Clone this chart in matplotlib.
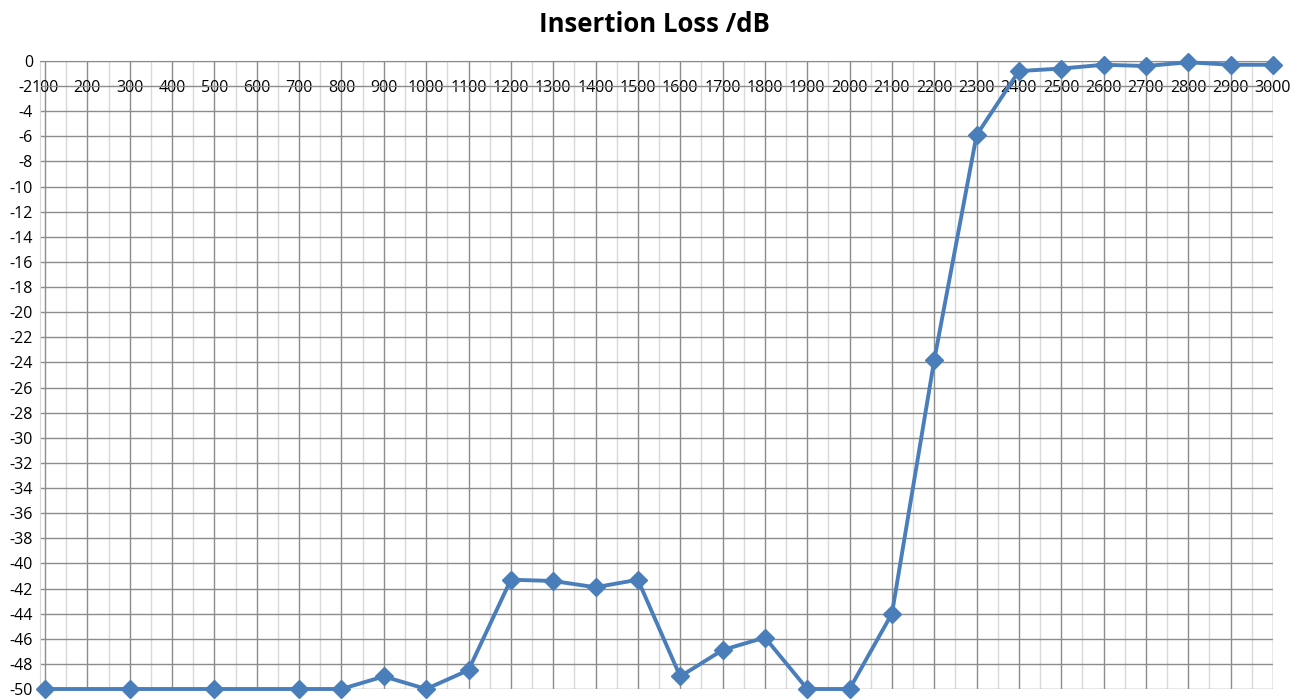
import matplotlib.pyplot as plt
import numpy as np
from matplotlib.ticker import MultipleLocator

plt.rcParams["font.family"] = ["Open Sans", "DejaVu Sans"]

freq = [100, 300, 500, 700, 800, 900, 1000, 1100, 1200, 1300, 1400, 1500,
        1600, 1700, 1800, 1900, 2000, 2100, 2200, 2300, 2400, 2500, 2600,
        2700, 2800, 2900, 3000]
loss = [-50, -50, -50, -50, -50, -49, -50, -48.5, -41.3, -41.4, -41.9, -41.3,
        -49, -46.9, -45.9, -50, -50, -44, -23.8, -5.9, -0.8, -0.6, -0.3,
        -0.4, -0.1, -0.3, -0.3]

x_ticks = np.arange(100, 3001, 100)
y_ticks = np.arange(-50, 1, 2)

fig = plt.figure(figsize=(13.09, 7), dpi=100)
ax = fig.add_axes([40 / 1309, 1 - 689 / 700, 1233 / 1309, 628 / 700])

ax.set_xlim(88, 3000)
ax.set_ylim(-50, 0)

ax.xaxis.set_minor_locator(MultipleLocator(50))
ax.set_xticks(x_ticks)
ax.set_xticklabels([str(v) for v in x_ticks])
ax.set_yticks(y_ticks)
ax.set_yticklabels([str(v) for v in y_ticks])

ax.grid(which="minor", axis="x", color="#d9d9d9", lw=1)
ax.grid(which="major", axis="x", color="#8c8c8c", lw=1)
ax.grid(which="major", axis="y", color="#8c8c8c", lw=1)
ax.set_axisbelow(True)

ax.tick_params(axis="x", which="both", bottom=False, labelbottom=False,
               top=False, labeltop=True, pad=-29, labelsize=11.5)
ax.tick_params(axis="y", which="both", length=0, pad=5, labelsize=11.5)

for s in ["bottom", "right"]:
    ax.spines[s].set_visible(False)
ax.spines["top"].set_color("#8c8c8c")
ax.spines["left"].set_color("#d9d9d9")

ax.plot(freq, loss, color="#4a7ebb", lw=2.8, marker="D", ms=9,
        clip_on=False, zorder=5)

fig.suptitle("Insertion Loss /dB", fontsize=18.5, fontweight="bold", y=0.985)

fig.savefig("out.png", dpi=100)
